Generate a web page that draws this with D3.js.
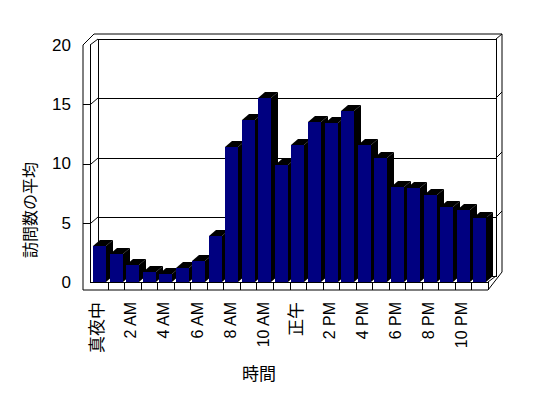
<!DOCTYPE html>
<html>
<head>
<meta charset="utf-8">
<script src="https://cdn.jsdelivr.net/npm/d3@7"></script>
<style>
  body { margin: 0; background: #fff; }
  text { font-family: "Liberation Sans", "Noto Sans CJK JP", sans-serif; fill: #000; }
</style>
</head>
<body>
<div id="chart"></div>
<script>
const hours = ['真夜中', '1 AM', '2 AM', '3 AM', '4 AM', '5 AM', '6 AM', '7 AM', '8 AM', '9 AM', '10 AM', '11 AM',
  '正午', '1 PM', '2 PM', '3 PM', '4 PM', '5 PM', '6 PM', '7 PM', '8 PM', '9 PM', '10 PM', '11 PM'];
const visits = [3.0, 2.4, 1.4, 0.85, 0.7, 1.2, 1.8, 3.9, 11.4, 13.7, 15.5, 9.9,
  11.6, 13.5, 13.4, 14.4, 11.6, 10.5, 8.0, 7.9, 7.3, 6.3, 6.1, 5.4];
const yTicks = [0, 5, 10, 15, 20];
const xTitle = '時間';
const yTitle = '訪問数の平均';

const width = 548, height = 398;
const wallDx = 8, wallDy = -6;   // depth of the 3d box
const barDx = 7, barDy = -6;     // depth of each column
const wallLeft = 83, wallInner = 90, floorBottom = 290;

const svg = d3.select('#chart').append('svg')
  .attr('width', width)
  .attr('height', height);

const x = d3.scaleBand()
  .domain(hours)
  .range([91, 488])
  .paddingInner(0.24)
  .paddingOuter(0.12);

const y = d3.scaleLinear()
  .domain([0, 20])
  .range([282, 45]);

const x0 = x.range()[0], x1 = x.range()[1];
const yTop = y(20), yBase = y(0);
const line = (pts) => 'M' + pts.map(p => p.join(',')).join('L');

const box = svg.append('g')
  .attr('fill', 'none')
  .attr('stroke', '#000')
  .attr('stroke-width', 1)
  .attr('shape-rendering', 'crispEdges');

// outer silhouette
box.append('path')
  .attr('d', line([[wallLeft, yTop], [wallLeft + 11, yTop - 11], [x1 + wallDx + 6, yTop - 11],
    [x1 + wallDx + 6, yBase + wallDy - 4], [x1, floorBottom], [wallLeft, floorBottom]]) + 'Z')
  .attr('fill', '#fff')
  .attr('shape-rendering', 'auto');

// back wall inner face
box.append('rect')
  .attr('x', x0 + wallDx - 1).attr('y', yTop + wallDy)
  .attr('width', x1 - x0 + 1).attr('height', yBase - yTop);

// left wall inner edge + top diagonals
box.append('path').attr('d', line([[wallInner, yTop], [wallInner, yBase]]));
box.append('path').attr('shape-rendering', 'auto')
  .attr('d', line([[wallInner, yTop], [x0 + wallDx - 1, yTop + wallDy]]));
box.append('path').attr('shape-rendering', 'auto')
  .attr('d', line([[x1 + wallDx, yTop + wallDy], [x1 + wallDx + 6, yTop - 11]]));

// floor front face and top edge
box.append('path').attr('d', line([[wallInner, yBase], [x1, yBase], [x1, floorBottom]]));
box.append('path').attr('shape-rendering', 'auto')
  .attr('d', line([[x1, yBase], [x1 + wallDx, yBase + wallDy]]));

// category dividers on the floor front
box.selectAll('.div')
  .data(d3.range(1, hours.length))
  .join('path')
  .attr('d', i => line([[Math.round(x0 + i * x.step()), yBase], [Math.round(x0 + i * x.step()), floorBottom]]));

// gridlines on the walls
const grid = yTicks.filter(t => t > 0 && t < 20);
grid.forEach(t => {
  const yf = Math.round(y(t));
  box.append('path').attr('d', line([[wallLeft, yf], [wallInner + 1, yf]]));
  box.append('path').attr('shape-rendering', 'auto')
    .attr('d', line([[wallInner + 1, yf], [x0 + wallDx - 1, yf + wallDy]]));
  box.append('path').attr('d', line([[x0 + wallDx - 1, yf + wallDy], [x1 + wallDx, yf + wallDy]]));
  box.append('path').attr('shape-rendering', 'auto')
    .attr('d', line([[x1 + wallDx, yf + wallDy], [x1 + wallDx + 6, yf + wallDy - 6]]));
});

// columns
const bars = svg.append('g');
hours.forEach((h, i) => {
  const bx = Math.round(x(h));
  const bw = Math.round(x.bandwidth());
  const by = Math.round(y(visits[i]));
  const g = bars.append('g');
  g.append('path')
    .attr('d', line([[bx + bw, by], [bx + bw + barDx, by + barDy], [bx + bw + barDx, yBase + barDy], [bx + bw, yBase]]) + 'Z')
    .attr('fill', '#000');
  g.append('path')
    .attr('d', line([[bx, by], [bx + barDx, by + barDy], [bx + bw + barDx, by + barDy], [bx + bw, by]]) + 'Z')
    .attr('fill', '#000');
  g.append('rect')
    .attr('x', bx).attr('y', by)
    .attr('width', bw).attr('height', yBase - by)
    .attr('fill', '#000080')
    .attr('shape-rendering', 'crispEdges');
});

// y tick labels
svg.append('g').selectAll('text')
  .data(yTicks)
  .join('text')
  .attr('x', 71)
  .attr('y', d => y(d))
  .attr('dy', '0.35em')
  .attr('text-anchor', 'end')
  .attr('font-size', 17)
  .text(d => d);

// x tick labels (every second hour)
svg.append('g').selectAll('text')
  .data(hours.filter((h, i) => i % 2 === 0))
  .join('text')
  .attr('transform', d => `translate(${x(d) + x.bandwidth() / 2 + 4},302) rotate(-90)`)
  .attr('text-anchor', 'end')
  .attr('font-size', d => /AM|PM/.test(d) ? 16 : 17)
  .text(d => d);

// axis titles
svg.append('text')
  .attr('x', 259).attr('y', 380)
  .attr('text-anchor', 'middle')
  .attr('font-size', 17)
  .text(xTitle);

svg.append('text')
  .attr('transform', 'translate(36,210) rotate(-90)')
  .attr('text-anchor', 'middle')
  .attr('font-size', 16)
  .text(yTitle);
</script>
</body>
</html>
